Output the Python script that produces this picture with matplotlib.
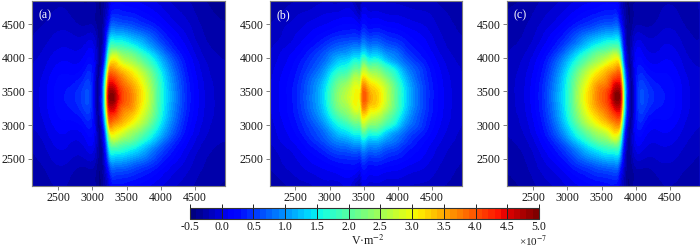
import numpy as np
import matplotlib
matplotlib.use("Agg")
import matplotlib.pyplot as plt
import matplotlib.tri as mtri
from matplotlib.cm import ScalarMappable
from matplotlib.colors import Normalize

plt.rcParams['font.family'] = ['Liberation Serif', 'DejaVu Serif']
plt.rcParams['mathtext.fontset'] = 'stix'

W, H = 700, 249
xlim = (2120, 4938)
ylim = (2090, 4850)
y_center = 3420
ticks = [2500, 3000, 3500, 4000, 4500]
cbar_ticks = [-0.5, 0.0, 0.5, 1.0, 1.5, 2.0, 2.5, 3.0, 3.5, 4.0, 4.5, 5.0]
labels = ['(a)', '(b)', '(c)']

row_dy = [0, 150, 300, 430, 520, 620, 720, 850, 1000, 1150, 1330, 1500]

front_a = [3200, 3202, 3210, 3220, 3228, 3235, 3240, 3245, 3250, 3255, 3260, 3265]
offset_a = [-1150, -900, -600, -300, -190, -130, -70, -25, 0, 30, 60, 150, 300, 450, 600, 750, 950, 1200, 1800]
field_a = [
    [-0.05, 0.05, 0.30, 0.60, 0.15, -0.35, 0.10, 1.30, 2.60, 4.20, 4.90, 4.60, 3.90, 3.40, 2.80, 1.95, 1.10, 0.35, -0.15],
    [-0.05, 0.05, 0.28, 0.55, 0.15, -0.35, 0.10, 1.30, 2.50, 4.00, 4.60, 4.30, 3.75, 3.30, 2.70, 1.90, 1.05, 0.33, -0.15],
    [-0.07, 0.03, 0.22, 0.42, 0.10, -0.35, 0.10, 1.20, 2.30, 3.70, 4.10, 3.85, 3.40, 3.00, 2.45, 1.75, 0.95, 0.27, -0.17],
    [-0.10, 0.00, 0.15, 0.30, 0.05, -0.35, 0.05, 1.10, 2.10, 3.30, 3.60, 3.35, 3.00, 2.60, 2.10, 1.50, 0.80, 0.20, -0.18],
    [-0.12, -0.02, 0.10, 0.22, 0.00, -0.35, 0.00, 1.00, 1.90, 2.90, 3.20, 3.00, 2.60, 2.25, 1.80, 1.30, 0.68, 0.15, -0.20],
    [-0.15, -0.05, 0.05, 0.15, -0.05, -0.35, 0.00, 0.90, 1.70, 2.40, 2.70, 2.55, 2.25, 1.90, 1.50, 1.05, 0.52, 0.08, -0.20],
    [-0.18, -0.08, 0.00, 0.08, -0.10, -0.37, -0.05, 0.75, 1.40, 1.95, 2.10, 2.00, 1.80, 1.50, 1.15, 0.78, 0.36, 0.02, -0.22],
    [-0.20, -0.12, -0.05, -0.02, -0.18, -0.38, -0.10, 0.55, 1.05, 1.45, 1.50, 1.45, 1.30, 1.10, 0.82, 0.52, 0.22, -0.05, -0.25],
    [-0.22, -0.16, -0.12, -0.15, -0.28, -0.40, -0.15, 0.30, 0.60, 0.90, 0.95, 0.90, 0.80, 0.65, 0.50, 0.30, 0.08, -0.10, -0.27],
    [-0.25, -0.20, -0.18, -0.25, -0.35, -0.40, -0.20, 0.05, 0.25, 0.50, 0.55, 0.50, 0.45, 0.35, 0.25, 0.12, -0.02, -0.15, -0.30],
    [-0.27, -0.23, -0.22, -0.28, -0.35, -0.42, -0.25, -0.10, 0.05, 0.20, 0.25, 0.25, 0.20, 0.15, 0.08, 0.00, -0.10, -0.20, -0.32],
    [-0.30, -0.27, -0.25, -0.30, -0.37, -0.42, -0.30, -0.20, -0.08, 0.03, 0.08, 0.08, 0.05, 0.00, -0.05, -0.10, -0.18, -0.25, -0.35],
]

front_b = [3480] * 12
offset_b = [-1400, -1100, -900, -700, -500, -300, -150, -60, -20, 0, 20, 60, 150, 300, 450, 600, 800, 1000, 1500]
field_b = [
    [-0.05, 0.20, 0.50, 0.95, 1.65, 2.50, 2.90, 3.00, 3.30, 3.70, 3.95, 3.80, 3.40, 2.95, 2.20, 1.50, 0.80, 0.35, -0.10],
    [-0.05, 0.20, 0.48, 0.92, 1.57, 2.35, 2.75, 2.87, 3.05, 3.50, 3.70, 3.50, 3.20, 2.80, 2.15, 1.45, 0.78, 0.34, -0.10],
    [-0.07, 0.17, 0.42, 0.80, 1.35, 1.98, 2.35, 2.47, 2.65, 3.00, 3.10, 2.95, 2.70, 2.35, 1.85, 1.25, 0.68, 0.30, -0.11],
    [-0.08, 0.13, 0.35, 0.65, 1.10, 1.58, 1.86, 1.96, 2.10, 2.40, 2.55, 2.35, 2.20, 1.90, 1.50, 1.00, 0.60, 0.25, -0.12],
    [-0.10, 0.10, 0.30, 0.57, 0.92, 1.35, 1.56, 1.62, 1.72, 1.95, 2.05, 1.85, 1.75, 1.50, 1.12, 0.80, 0.47, 0.20, -0.14],
    [-0.12, 0.07, 0.22, 0.48, 0.78, 1.06, 1.22, 1.27, 1.35, 1.50, 1.55, 1.40, 1.32, 1.14, 0.90, 0.64, 0.34, 0.14, -0.15],
    [-0.15, 0.02, 0.15, 0.35, 0.60, 0.80, 0.92, 0.95, 1.00, 1.10, 1.15, 1.03, 0.97, 0.84, 0.69, 0.48, 0.26, 0.08, -0.17],
    [-0.18, -0.05, 0.07, 0.21, 0.38, 0.52, 0.57, 0.55, 0.60, 0.72, 0.75, 0.66, 0.62, 0.54, 0.43, 0.32, 0.17, 0.03, -0.20],
    [-0.20, -0.08, 0.00, 0.10, 0.18, 0.27, 0.30, 0.24, 0.28, 0.38, 0.42, 0.35, 0.31, 0.28, 0.22, 0.15, 0.07, -0.03, -0.22],
    [-0.24, -0.14, -0.06, 0.00, 0.06, 0.12, 0.12, 0.00, 0.04, 0.15, 0.20, 0.15, 0.11, 0.08, 0.05, 0.02, -0.03, -0.08, -0.25],
    [-0.28, -0.20, -0.15, -0.10, -0.06, -0.04, -0.06, -0.25, -0.18, -0.05, 0.00, -0.03, -0.05, -0.06, -0.07, -0.09, -0.12, -0.15, -0.27],
    [-0.30, -0.25, -0.22, -0.18, -0.15, -0.13, -0.15, -0.38, -0.30, -0.18, -0.15, -0.15, -0.15, -0.15, -0.16, -0.18, -0.20, -0.22, -0.30],
]

front_c = [3815, 3813, 3805, 3795, 3787, 3780, 3775, 3770, 3765, 3760, 3755, 3750]
offset_c = [-1800, -1200, -950, -750, -600, -450, -300, -150, -60, -30, 0, 25, 70, 130, 190, 300, 600, 900, 1150]
field_c = [
    [-0.15, 0.35, 1.10, 1.95, 2.80, 3.40, 3.90, 4.60, 4.90, 4.20, 2.60, 1.30, 0.10, -0.35, 0.15, 0.60, 0.30, 0.05, -0.05],
    [-0.15, 0.33, 1.05, 1.90, 2.70, 3.30, 3.75, 4.30, 4.60, 4.00, 2.50, 1.30, 0.10, -0.35, 0.15, 0.55, 0.28, 0.05, -0.05],
    [-0.17, 0.27, 0.95, 1.75, 2.45, 3.00, 3.40, 3.85, 4.10, 3.70, 2.30, 1.20, 0.10, -0.35, 0.10, 0.42, 0.22, 0.03, -0.07],
    [-0.18, 0.20, 0.80, 1.50, 2.10, 2.60, 3.00, 3.35, 3.60, 3.30, 2.10, 1.10, 0.05, -0.35, 0.05, 0.30, 0.15, 0.00, -0.10],
    [-0.20, 0.15, 0.68, 1.30, 1.80, 2.25, 2.60, 3.00, 3.20, 2.90, 1.90, 1.00, 0.00, -0.35, 0.00, 0.22, 0.10, -0.02, -0.12],
    [-0.20, 0.08, 0.52, 1.05, 1.50, 1.90, 2.25, 2.55, 2.70, 2.40, 1.70, 0.90, 0.00, -0.35, -0.05, 0.15, 0.05, -0.05, -0.15],
    [-0.22, 0.02, 0.36, 0.78, 1.15, 1.50, 1.80, 2.00, 2.10, 1.95, 1.40, 0.75, -0.05, -0.37, -0.10, 0.08, 0.00, -0.08, -0.18],
    [-0.25, -0.05, 0.22, 0.52, 0.82, 1.10, 1.30, 1.45, 1.50, 1.45, 1.05, 0.55, -0.10, -0.38, -0.18, -0.02, -0.05, -0.12, -0.20],
    [-0.27, -0.10, 0.08, 0.30, 0.50, 0.65, 0.80, 0.90, 0.95, 0.90, 0.60, 0.30, -0.15, -0.40, -0.28, -0.15, -0.12, -0.16, -0.22],
    [-0.30, -0.15, -0.02, 0.12, 0.25, 0.35, 0.45, 0.50, 0.55, 0.50, 0.25, 0.05, -0.20, -0.40, -0.35, -0.25, -0.18, -0.20, -0.25],
    [-0.32, -0.20, -0.10, 0.00, 0.08, 0.15, 0.20, 0.25, 0.25, 0.20, 0.05, -0.10, -0.25, -0.42, -0.35, -0.28, -0.22, -0.23, -0.27],
    [-0.35, -0.25, -0.18, -0.10, -0.05, 0.00, 0.05, 0.08, 0.08, 0.03, -0.08, -0.20, -0.30, -0.42, -0.37, -0.30, -0.25, -0.27, -0.30],
]

panels = [
    (front_a, offset_a, field_a, 32, 225),
    (front_b, offset_b, field_b, 269.5, 462),
    (front_c, offset_c, field_c, 507, 700),
]
top_px, bot_px = 1, 186
frame = '#7f7f7f'
cmap = plt.get_cmap('jet', 55)
norm = Normalize(-0.5, 5.0)
levels = np.linspace(-0.5, 5.0, 111)
fs = 8.6

fig = plt.figure(figsize=(W / 100, H / 100), dpi=100)


def grid_triangles(nr, nc):
    tris = []
    for i in range(nr - 1):
        for j in range(nc - 1):
            a = i * nc + j
            tris += [[a, a + 1, a + nc], [a + 1, a + nc + 1, a + nc]]
    return np.array(tris)


for (front, offset, field, l, r), lab in zip(panels, labels):
    ax = fig.add_axes([l / W, 1 - bot_px / H, (r - l) / W, (bot_px - top_px) / H])
    z = np.array(field)
    dy = np.array(row_dy, float)
    fr = np.array(front, float)
    off = np.array(offset, float)
    ys = np.concatenate([y_center - dy[::-1], y_center + dy[1:]])
    zs = np.vstack([z[::-1], z[1:]])
    frs = np.concatenate([fr[::-1], fr[1:]])
    X = frs[:, None] + off[None, :]
    Y = np.repeat(ys[:, None], len(off), axis=1)
    tri = mtri.Triangulation(X.ravel(), Y.ravel(), grid_triangles(*X.shape))
    refiner = mtri.UniformTriRefiner(tri)
    tri2, z2 = refiner.refine_field(zs.ravel(), subdiv=3)
    ax.set_facecolor(cmap(norm(-0.15)))
    cs = ax.tricontourf(tri2, np.clip(z2, -0.499, 4.999), levels=levels, cmap=cmap, norm=norm)
    cs.set_edgecolor('face')
    cs.set_linewidth(0.3)
    ax.set_xlim(xlim)
    ax.set_ylim(ylim)
    ax.set_xticks(ticks)
    ax.set_yticks(ticks)
    ax.tick_params(labelsize=fs, length=3, width=0.7, pad=1.5, labelcolor='#1a1a1a', color=frame)
    for s in ax.spines.values():
        s.set_color(frame)
        s.set_linewidth(0.8)
    ax.text(0.035, 0.925, lab, transform=ax.transAxes, color='white', fontsize=fs, va='center', ha='left')

cax = fig.add_axes([190 / W, 1 - 219 / H, (539 - 190) / W, 11 / H])
cb = fig.colorbar(ScalarMappable(norm=norm, cmap=cmap), cax=cax, orientation='horizontal', ticks=cbar_ticks)
cb.ax.set_xticklabels([f'{t:.1f}' for t in cbar_ticks])
cb.ax.tick_params(direction='in', length=11, width=0.7, color='#222222', labelsize=fs, pad=1.5, labelcolor='#1a1a1a')
cb.outline.set_edgecolor('#333333')
cb.outline.set_linewidth(0.8)

fig.text(368 / W, 1 - 241 / H, 'V·m$^{-2}$', ha='center', va='center', fontsize=fs, color='#1a1a1a')
fig.text(533 / W, 1 - 241 / H, '×10$^{-7}$', ha='center', va='center', fontsize=fs - 0.6, color='#1a1a1a')

fig.savefig('out.png', dpi=100)
